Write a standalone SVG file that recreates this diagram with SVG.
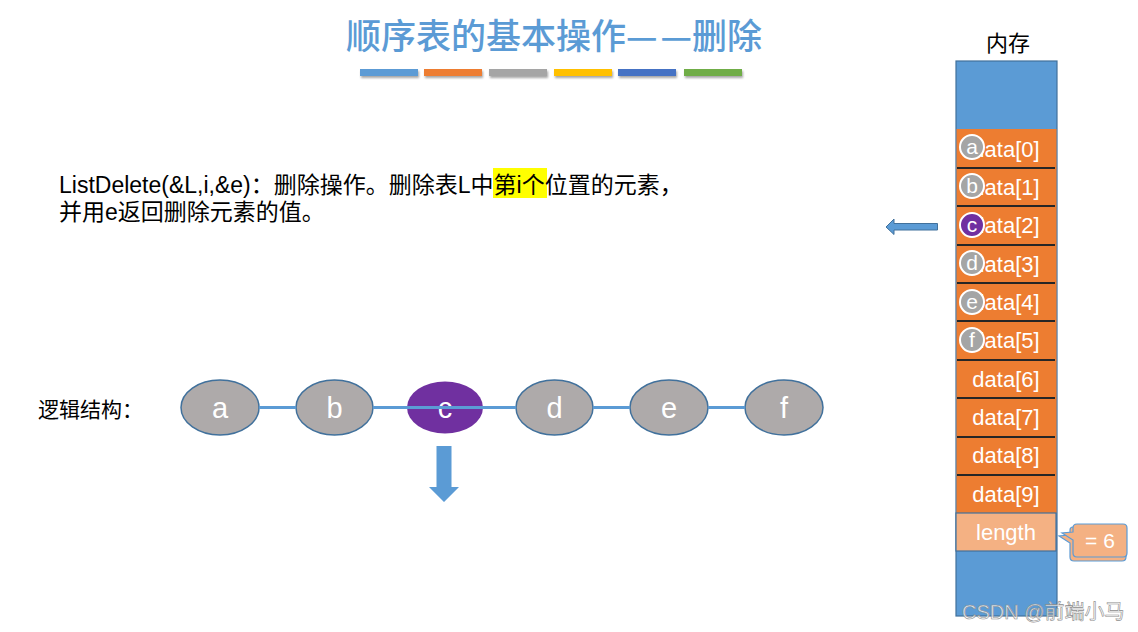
<svg xmlns="http://www.w3.org/2000/svg" width="1138" height="632" viewBox="0 0 1138 632">
<style>
.cjk{font-family:"Liberation Sans","Noto Sans CJK SC",sans-serif}
.title{font-family:"Noto Sans CJK SC",sans-serif;font-size:35px;fill:#5B9BD5;font-weight:500}
.body{font-size:23px;fill:#000}
.cell{fill:#ED7D31}
.sep{stroke:#262626;stroke-width:2}
.ct{font-family:"Liberation Sans",sans-serif;font-size:22px;fill:#fff;text-anchor:middle}
.dot{fill:#A5A5A5;stroke:#fff;stroke-width:2}
.dl{font-family:"Liberation Sans",sans-serif;font-size:21px;fill:#fff;text-anchor:middle}
.node{fill:#AEAAAA;stroke:#41719C;stroke-width:1.5}
.nl{font-family:"Liberation Sans",sans-serif;font-size:29px;fill:#fff;text-anchor:middle}
.conn{stroke:#5B9BD5;stroke-width:3;fill:none}
.arrow{fill:#5B9BD5;stroke:#41719C;stroke-width:1}
</style>
<defs>
<filter id="sh" x="-10%" y="-50%" width="120%" height="250%">
<feDropShadow dx="1" dy="2" stdDeviation="1.2" flood-color="#000" flood-opacity="0.35"/>
</filter>
</defs>
<rect width="1138" height="632" fill="#fff"/>

<g id="title">
<text class="title" x="554" y="49" text-anchor="middle">顺序表的基本操作<tspan letter-spacing="3">—</tspan>—删除</text>
<g filter="url(#sh)">
<rect x="360" y="69" width="58" height="7" fill="#5B9BD5"/>
<rect x="424" y="69" width="58" height="7" fill="#ED7D31"/>
<rect x="489" y="69" width="58" height="7" fill="#A5A5A5"/>
<rect x="554" y="69" width="58" height="7" fill="#FFC000"/>
<rect x="618" y="69" width="58" height="7" fill="#4472C4"/>
<rect x="684" y="69" width="58" height="7" fill="#70AD47"/>
</g>
</g>

<g id="description">
<rect x="493" y="168" width="54" height="30" fill="#FFFF00"/>
<text class="cjk body" x="59" y="193">ListDelete(&amp;L,i,&amp;e)：删除操作。删除表L中第i个位置的元素，</text>
<text class="cjk body" x="59" y="220">并用e返回删除元素的值。</text>
</g>

<g id="memory">
<text x="1008" y="51" text-anchor="middle" font-family="Noto Sans CJK SC,sans-serif" font-size="22" fill="#000">内存</text>
<rect x="956" y="61" width="101" height="555" fill="#5B9BD5" stroke="#41719C" stroke-width="1.2"/>
<rect class="cell" x="956.5" y="129" width="100" height="384"/>
<line class="sep" x1="957" y1="168" x2="1055" y2="168"/>
<line class="sep" x1="957" y1="206" x2="1055" y2="206"/>
<line class="sep" x1="957" y1="245" x2="1055" y2="245"/>
<line class="sep" x1="957" y1="283" x2="1055" y2="283"/>
<line class="sep" x1="957" y1="321" x2="1055" y2="321"/>
<line class="sep" x1="957" y1="360" x2="1055" y2="360"/>
<line class="sep" x1="957" y1="398" x2="1055" y2="398"/>
<line class="sep" x1="957" y1="437" x2="1055" y2="437"/>
<line class="sep" x1="957" y1="475" x2="1055" y2="475"/>
<text class="ct" x="1006" y="157">data[0]</text>
<text class="ct" x="1006" y="195">data[1]</text>
<text class="ct" x="1006" y="233">data[2]</text>
<text class="ct" x="1006" y="272">data[3]</text>
<text class="ct" x="1006" y="310">data[4]</text>
<text class="ct" x="1006" y="348">data[5]</text>
<text class="ct" x="1006" y="387">data[6]</text>
<text class="ct" x="1006" y="425">data[7]</text>
<text class="ct" x="1006" y="463">data[8]</text>
<text class="ct" x="1006" y="502">data[9]</text>
<rect x="956" y="513" width="100" height="38" fill="#F4B183" stroke="#41719C" stroke-width="1.2"/>
<text class="ct" x="1006" y="540">length</text>
</g>

<g id="slot-markers">
<circle class="dot" cx="972" cy="147" r="12"/><text class="dl" x="972" y="154">a</text>
<circle class="dot" cx="972" cy="186" r="12"/><text class="dl" x="972" y="193">b</text>
<circle cx="972" cy="225" r="12" fill="#7030A0" stroke="#fff" stroke-width="2"/><text class="dl" x="972" y="232">c</text>
<circle class="dot" cx="972" cy="263" r="12"/><text class="dl" x="972" y="270">d</text>
<circle class="dot" cx="972" cy="302" r="12"/><text class="dl" x="972" y="309">e</text>
<circle class="dot" cx="972" cy="340" r="12"/><text class="dl" x="972" y="347">f</text>
</g>

<g id="callout">
<path d="M1073,527 Q1070,527 1070,530 L1070,535 L1059,536 L1070,543 L1070,557 Q1070,561 1074,561 L1122,561 Q1126,561 1126,557 L1126,531 Q1126,527 1122,527 Z" fill="#F4B183" stroke="#5B9BD5" stroke-width="1.2"/>
<path d="M1077,524 Q1073,524 1073,528 L1073,532 L1062,533 L1073,540 L1073,553 Q1073,557 1077,557 L1123,557 Q1127,557 1127,553 L1127,528 Q1127,524 1123,524 Z" fill="#F4B183" stroke="#5B9BD5" stroke-width="1.2"/>
<text x="1100" y="548" text-anchor="middle" font-family="Liberation Sans,sans-serif" font-size="21" fill="#fff">= 6</text>
</g>

<g id="left-arrow">
<path class="arrow" d="M886,227 L894,219 L894,223.5 L937.5,223.5 L937.5,230 L894,230 L894,234.5 Z"/>
</g>

<g id="logic-label">
<text class="cjk" x="38" y="417" font-size="21" fill="#000">逻辑结构：</text>
</g>

<g id="node-a"><ellipse class="node" cx="220" cy="407.5" rx="39" ry="27.5"/><text class="nl" x="220" y="418">a</text></g>
<g id="node-b"><ellipse class="node" cx="334.5" cy="407.5" rx="38.5" ry="27.5"/><text class="nl" x="334.5" y="418">b</text></g>
<g id="node-c"><ellipse cx="445" cy="407.5" rx="38" ry="26" fill="#7030A0"/><text class="nl" x="445" y="418">c</text></g>
<g id="node-d"><ellipse class="node" cx="554.5" cy="407.5" rx="38.5" ry="27.5"/><text class="nl" x="554.5" y="418">d</text></g>
<g id="node-e"><ellipse class="node" cx="669" cy="407.5" rx="39" ry="27.5"/><text class="nl" x="669" y="418">e</text></g>
<g id="node-f"><ellipse class="node" cx="784" cy="407.5" rx="39" ry="27.5"/><text class="nl" x="784" y="418">f</text></g>

<g id="connectors">
<line class="conn" x1="259" y1="407.5" x2="296" y2="407.5"/>
<line class="conn" x1="373" y1="407.5" x2="516" y2="407.5"/>
<line class="conn" x1="593" y1="407.5" x2="630" y2="407.5"/>
<line class="conn" x1="708" y1="407.5" x2="745" y2="407.5"/>
</g>

<g id="down-arrow">
<path d="M436.5,446 L451.5,446 L451.5,487 L459,487 L444,502 L429,487 L436.5,487 Z" fill="#5B9BD5"/>
</g>

<g id="watermark">
<text x="962" y="619" font-family="Liberation Sans,Noto Sans CJK SC,sans-serif" font-size="20" fill="#fff" fill-opacity="0.75" stroke="#8c8c8c" stroke-width="0.6">CSDN @前端小马</text>
</g>
</svg>
